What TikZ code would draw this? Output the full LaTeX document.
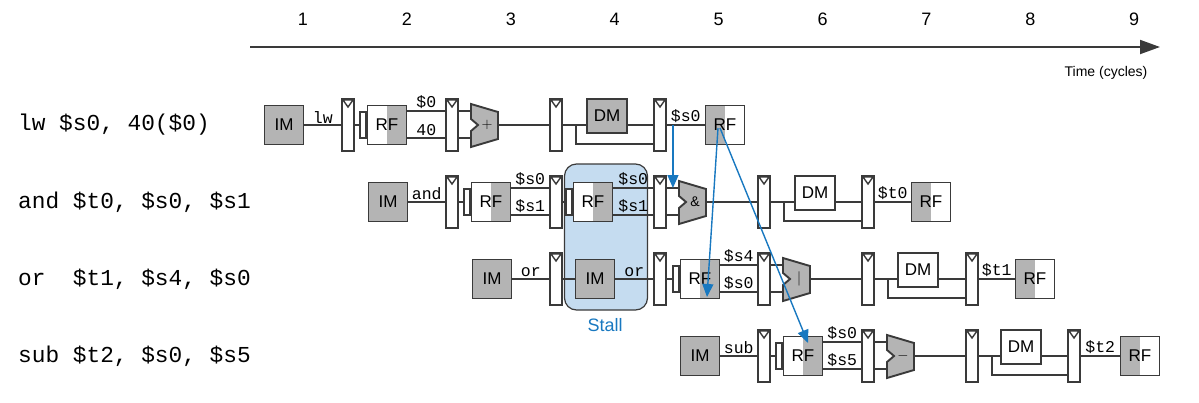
\documentclass[tikz,border=0pt]{standalone}
\usepackage{fontspec}
\setmainfont{Liberation Sans}
\newfontfamily\codefont{Liberation Mono}
\usetikzlibrary{arrows.meta,calc}
\tikzset{>=latex}
\definecolor{unitgray}{HTML}{B4B4B4}
\definecolor{wirecol}{HTML}{3A3A3A}
\definecolor{fwdblue}{HTML}{1878C0}
\definecolor{stallfill}{HTML}{C5DCF0}
\tikzstyle{unit}=[rectangle,draw=wirecol,line width=1.9pt,minimum width=39pt,minimum height=39pt,inner sep=0pt,font=\fontsize{17}{17}\selectfont]
\tikzstyle{im}=[unit,fill=unitgray]
\tikzstyle{rfr}=[unit,fill=white,path picture={\fill[unitgray] (path picture bounding box.north) rectangle (path picture bounding box.south east);}]
\tikzstyle{rfw}=[unit,fill=white,path picture={\fill[unitgray] (path picture bounding box.north) rectangle (path picture bounding box.south west);}]
\tikzstyle{dm}=[unit,minimum height=34pt,minimum width=40pt]
\tikzstyle{preg}=[rectangle,draw=wirecol,fill=white,line width=1.9pt,minimum width=12pt,minimum height=52pt,inner sep=0pt,path picture={\draw[wirecol,line width=1.4pt] ([shift={(-5,1)}]path picture bounding box.north) -- ++(10,0) -- ++(-5,7) -- cycle;}]
\tikzstyle{brk}=[rectangle,draw=wirecol,fill=white,line width=1.9pt,minimum width=6pt,minimum height=26pt,inner sep=0pt]
\tikzstyle{wire}=[draw=wirecol,line width=1.9pt]
\tikzstyle{sig}=[inner sep=1pt,anchor=south,font=\codefont\fontsize{16.5}{16}\selectfont]
\tikzstyle{fwd}=[draw=fwdblue,line width=1.4pt,-{Triangle[length=13pt,width=11pt]}]
\newcommand{\alu}[4]{%
  \draw[wire,fill=unitgray] (#2,#3-21) -- ++(27,8) -- ++(0,27) -- ++(-27,8) -- ++(0,-16) -- ++(7,-6) -- ++(-7,-6) -- cycle;
  \node[inner sep=0pt,font=\fontsize{14}{14}\selectfont] (#1) at (#2+16,#3) {#4};}
\newcommand{\rfread}[4]{%
  \node[rfr] (#1) at (#2+20,#3) {RF};
  \node[brk,anchor=east] (#1b) at (#1.west) {};
  \draw[wire] (#4.east) -- (#1b.west);}
\begin{document}
\begin{tikzpicture}[x=1pt,y=-1pt]
	\useasboundingbox (0,0) rectangle (1199,402);
	% stall
	\node[draw=wirecol,fill=stallfill,line width=1.2pt,rounded corners=12pt,minimum width=83pt,minimum height=146pt] (stall) at (606,237) {};
	\node[text=fwdblue,font=\fontsize{18}{18}\selectfont] (stalltxt) at (605,325) {Stall};

	% time axis
	\coordinate (t0) at (250,47);
	\coordinate (t1) at (1160,47);
	\draw[wire,-{Triangle[length=20pt,width=14pt]}] (t0) -- (t1);
	\foreach \i in {1,...,9}
		\node[font=\fontsize{18}{18}\selectfont] (c\i) at ({303+103.9*(\i-1)},19) {\i};
	\node[font=\fontsize{14}{14}\selectfont] (timelbl) at (1106,73) {Time (cycles)};

	% instructions
	\foreach \y/\n/\t in {125/l1/{lw \$s0, 40(\$0)},202/l2/{and \$t0, \$s0, \$s1},279/l3/{or\ \ \$t1, \$s4, \$s0},356/l4/{sub \$t2, \$s0, \$s5}}
		\node[anchor=west,inner sep=0pt,font=\codefont\fontsize{22.8}{22}\selectfont] (\n) at (18,\y) {\t};

	% lw
	\node[im] (im1) at (284,125) {IM};
	\foreach \x/\n in {348/a,452/b,556/c,660/d}
		\node[preg] (r\n1) at (\x,125) {};
	\draw[wire] (im1) -- node[sig] {lw} (ra1);
	\rfread{rf1}{367}{125}{ra1}
	\draw[wire] ([yshift=14pt]rf1.east) -- node[sig] {\$0} ([yshift=14pt]rb1.west);
	\draw[wire] ([yshift=-13pt]rf1.east) -- node[sig] {40} ([yshift=-13pt]rb1.west);
	\alu{alu1}{471}{125}{$+$}
	\draw[wire] ([yshift=14pt]rb1.east) -- (471,111);
	\draw[wire] ([yshift=-13pt]rb1.east) -- (471,138);
	\draw[wire] (498,125) -- (rc1.west);
	\node[dm,fill=unitgray] (dm1) at (607,116) {DM};
	\draw[wire] (rc1.east) -- (rc1.east -| dm1.west);
	\draw[wire] (dm1.east |- rd1.west) -- (rd1.west);
	\draw[wire] ([xshift=13pt]rc1.east) |- ([yshift=-19pt]rd1.west);
	\node[rfw] (rfw1) at (725,125) {RF};
	\draw[wire] (rd1) -- node[sig] {\$s0} (rfw1);

	% and
	\node[im] (im2) at (388,202) {IM};
	\foreach \x/\n in {452/a,556/b,660/c,764/d,868/e}
		\node[preg] (r\n2) at (\x,202) {};
	\draw[wire] (im2) -- node[sig] {and} (ra2);
	\rfread{rf2}{471}{202}{ra2}
	\draw[wire] ([yshift=14pt]rf2.east) -- node[sig] {\$s0} ([yshift=14pt]rb2.west);
	\draw[wire] ([yshift=-13pt]rf2.east) -- node[sig] {\$s1} ([yshift=-13pt]rb2.west);
	\rfread{rfs2}{573}{202}{rb2}
	\draw[wire] ([yshift=14pt]rfs2.east) -- node[sig] {\$s0} ([yshift=14pt]rc2.west);
	\draw[wire] ([yshift=-13pt]rfs2.east) -- node[sig] {\$s1} ([yshift=-13pt]rc2.west);
	\alu{alu2}{679}{202}{\&}
	\draw[wire] ([yshift=14pt]rc2.east) -- (679,188);
	\draw[wire] ([yshift=-13pt]rc2.east) -- (679,215);
	\draw[wire] (706,202) -- (rd2.west);
	\node[dm,fill=white] (dm2) at (815,193) {DM};
	\draw[wire] (rd2.east) -- (rd2.east -| dm2.west);
	\draw[wire] (dm2.east |- re2.west) -- (re2.west);
	\draw[wire] ([xshift=13pt]rd2.east) |- ([yshift=-19pt]re2.west);
	\node[rfw] (rfw2) at (931,202) {RF};
	\draw[wire] (re2) -- node[sig] {\$t0} (rfw2);

	% or
	\node[im] (im3) at (492,279) {IM};
	\foreach \x/\n in {556/a,660/b,764/c,868/d,972/e}
		\node[preg] (r\n3) at (\x,279) {};
	\draw[wire] (im3) -- node[sig] {or} (ra3);
	\node[im] (ims3) at (595,279) {IM};
	\draw[wire] (ra3) -- (ims3);
	\draw[wire] (ims3) -- node[sig] {or} (rb3);
	\rfread{rf3}{680}{279}{rb3}
	\draw[wire] ([yshift=14pt]rf3.east) -- node[sig] {\$s4} ([yshift=14pt]rc3.west);
	\draw[wire] ([yshift=-13pt]rf3.east) -- node[sig] {\$s0} ([yshift=-13pt]rc3.west);
	\alu{alu3}{783}{279}{$|$}
	\draw[wire] ([yshift=14pt]rc3.east) -- (783,265);
	\draw[wire] ([yshift=-13pt]rc3.east) -- (783,292);
	\draw[wire] (810,279) -- (rd3.west);
	\node[dm,fill=white] (dm3) at (918,270) {DM};
	\draw[wire] (rd3.east) -- (rd3.east -| dm3.west);
	\draw[wire] (dm3.east |- re3.west) -- (re3.west);
	\draw[wire] ([xshift=13pt]rd3.east) |- ([yshift=-19pt]re3.west);
	\node[rfw] (rfw3) at (1035,279) {RF};
	\draw[wire] (re3) -- node[sig] {\$t1} (rfw3);

	% sub
	\node[im] (im4) at (700,356) {IM};
	\foreach \x/\n in {764/a,868/b,972/c,1074/d}
		\node[preg] (r\n4) at (\x,356) {};
	\draw[wire] (im4) -- node[sig] {sub} (ra4);
	\rfread{rf4}{783}{356}{ra4}
	\draw[wire] ([yshift=14pt]rf4.east) -- node[sig] {\$s0} ([yshift=14pt]rb4.west);
	\draw[wire] ([yshift=-13pt]rf4.east) -- node[sig] {\$s5} ([yshift=-13pt]rb4.west);
	\alu{alu4}{887}{356}{$-$}
	\draw[wire] ([yshift=14pt]rb4.east) -- (887,342);
	\draw[wire] ([yshift=-13pt]rb4.east) -- (887,369);
	\draw[wire] (914,356) -- (rc4.west);
	\node[dm,fill=white] (dm4) at (1021,347) {DM};
	\draw[wire] (rc4.east) -- (rc4.east -| dm4.west);
	\draw[wire] (dm4.east |- rd4.west) -- (rd4.west);
	\draw[wire] ([xshift=13pt]rc4.east) |- ([yshift=-19pt]rd4.west);
	\node[rfw] (rfw4) at (1140,356) {RF};
	\draw[wire] (rd4) -- node[sig] {\$t2} (rfw4);

	% forwarding
	\draw[fwd] ([xshift=6pt]rd1.east) -- ([shift={(6,-14)}]rc2.east);
	\draw[fwd] ([shift={(-7,3)}]rfw1.center) -- ([shift={(7,18)}]rf3.center);
	\draw[fwd] ([shift={(-5,3)}]rfw1.center) -- ([shift={(5,-13)}]rf4.center);
\end{tikzpicture}
\end{document}
